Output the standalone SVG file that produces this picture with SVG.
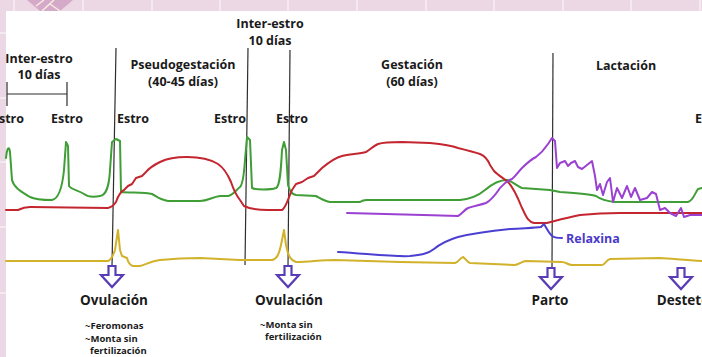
<svg xmlns="http://www.w3.org/2000/svg" width="702" height="357" viewBox="0 0 702 357">
<style>
.t{font-family:"Open Sans","Noto Sans",sans-serif;font-weight:700;fill:#1a1a1a;text-anchor:middle}
.h{font-size:12.5px}
.e{font-size:12.5px}
.o{font-size:13.5px}
.s{font-size:9.5px;text-anchor:start}
.c{fill:none;stroke-width:2;stroke-linejoin:round;stroke-linecap:round}
.vl{stroke:#2e2e2e;stroke-width:1.2;fill:none}
.grid{stroke:#f5e9f0;stroke-width:2}
</style>
<defs>
<path id="arr" d="M-3.5,0 L-3.5,9 L-11,9 L0,21 L11,9 L3.5,9 L3.5,0 Z" fill="#fff" stroke="#5a3cb6" stroke-width="2.2" stroke-linejoin="miter"/>
</defs>
<g id="background">
<rect x="0" y="0" width="702" height="357" fill="#ecd7e4"/>
<g class="grid">
<line x1="14" y1="0" x2="14" y2="357"/><line x1="83" y1="0" x2="83" y2="11"/><line x1="152" y1="0" x2="152" y2="11"/><line x1="220" y1="0" x2="220" y2="11"/><line x1="288" y1="0" x2="288" y2="11"/><line x1="357" y1="0" x2="357" y2="11"/><line x1="426" y1="0" x2="426" y2="11"/><line x1="494" y1="0" x2="494" y2="11"/><line x1="563" y1="0" x2="563" y2="11"/><line x1="631" y1="0" x2="631" y2="11"/><line x1="700" y1="0" x2="700" y2="11"/>
<line x1="0" y1="33" x2="6" y2="33"/><line x1="0" y1="98" x2="6" y2="98"/><line x1="0" y1="162" x2="6" y2="162"/><line x1="0" y1="227" x2="6" y2="227"/><line x1="0" y1="293" x2="6" y2="293"/>
</g>
<path d="M27,0 L73,0 L60,11 L40,11 Z" fill="#d5a9c8"/>
<path d="M36,6 L44,0 M42,11 L54,0 M50,4 L60,11" stroke="#f8ece2" stroke-width="1.5" fill="none"/>
<rect x="6" y="11" width="696" height="346" fill="#ffffff"/>
</g>
<g id="labels-top">
<text class="t h" x="39" y="63">Inter-estro</text>
<text class="t h" x="39" y="79">10 días</text>
<text class="t h" x="183" y="69">Pseudogestación</text>
<text class="t h" x="183" y="86">(40-45 días)</text>
<text class="t h" x="270" y="28">Inter-estro</text>
<text class="t h" x="270" y="45">10 días</text>
<text class="t h" x="412" y="69">Gestación</text>
<text class="t h" x="412" y="86">(60 días)</text>
<text class="t h" x="626" y="70">Lactación</text>
</g>
<g id="bracket" class="vl">
<line x1="7" y1="94" x2="67" y2="94"/><line x1="7" y1="82" x2="7" y2="106"/><line x1="67" y1="82" x2="67" y2="106"/>
</g>
<g id="estro-labels">
<text class="t e" x="8" y="123">Estro</text>
<text class="t e" x="67" y="123">Estro</text>
<text class="t e" x="133" y="123">Estro</text>
<text class="t e" x="230" y="123">Estro</text>
<text class="t e" x="292" y="123">Estro</text>
<text class="t e" x="711" y="123">Estro</text>
</g>
<g id="connectors">
<line class="vl" x1="116" y1="48" x2="112" y2="267"/>
<line class="vl" x1="248" y1="48" x2="245" y2="265"/>
<line class="vl" x1="290" y1="50" x2="288" y2="267"/>
<line class="vl" x1="553" y1="53" x2="552" y2="268"/>
</g>
<g id="curves">
<path class="c" stroke="#d1b22a" d="M6,261 L108,261 C111,260 113,256 115,250 L118,230 L120,250 L122,256 L127,258 C128,262 129,265 133,266 L140,266 C146,265 150,261 160,260 C170,259 180,258 200,258 L240,260 L272,260 C277,259 279,254 281,245 L284,230 L286,245 C288,255 290,260 296,262 C310,262 320,260 335,260 L400,262 L455,263 C459,262 461,257 463,257 C465,258 467,262 470,263 L515,265 C520,264 522,261 526,261 L562,262 C566,262 568,265 572,265 L602,265 C605,265 606,260 610,259 L660,258 C675,259 685,260 702,261"/>
<path class="c" stroke="#3f9e35" d="M6,158 C7,148 9,145 10,152 L12,180 C14,188 22,192 30,197 C36,200 45,200 52,200 C58,199 62,190 64,170 L66,142 L68,146 L69,186 C72,190 78,190 84,194 C88,197 95,197 100,196 C106,195 109,188 110,170 L112,142 L116,139 L120,141 L121,192 C130,193 145,192 152,194 C156,196 160,200 168,201 L200,201 C208,201 212,197 220,196 L228,196 C233,195 236,190 240,187 C242,185 244,175 245,160 L247,137 L250,140 L252,188 C256,190 270,190 276,188 C280,186 281,170 282,150 L284,142 L286,150 L288,185 C290,192 292,194 296,195 L316,196 C320,198 324,201 330,202 L360,202 C364,199 366,200 370,200 L460,200 C470,199 478,196 485,190 C492,184 500,180 507,180 C512,181 517,186 522,188 L550,190 L560,192 C575,193 590,194 596,196 C600,199 605,201 615,202 L688,202 C693,201 695,193 698,189 L702,188"/>
<path class="c" stroke="#c4262f" d="M6,210 L18,210 C22,208 24,207 30,207 L108,208 C112,207 114,205 116,202 C118,196 120,192 124,190 L128,186 L132,184 L136,178 L142,176 L146,172 C150,167 154,165 160,162 C168,158 175,157 187,157 C200,157 210,159 218,164 C224,168 228,175 231,182 C233,188 236,195 240,200 L244,206 C250,209 258,210 268,210 L282,210 C286,208 289,196 292,190 L296,184 L302,182 L308,178 L314,176 L318,172 L322,168 C328,163 334,158 342,156 C350,154 360,154 366,152 C370,150 373,146 378,144 C384,142 392,142 402,142 L430,143 C440,144 450,145 458,148 C466,150 474,152 480,154 C485,156 488,160 490,165 L494,171 C498,175 503,178 508,182 C514,188 518,198 522,208 C526,216 528,222 534,223 L547,223 C555,221 565,218 580,215 C590,214 600,213 620,213 L702,213"/>
<path class="c" stroke="#9b41d2" d="M347,213 C380,214 420,215 458,216 C462,214 464,210 468,208 C474,206 480,205 486,203 C492,200 496,194 500,188 C504,183 507,181 512,179 C516,176 518,172 522,168 C526,164 530,160 536,157 C540,154 544,150 548,144 L552,138 L555,141 L557,168 L560,163 L565,161 L568,166 L571,163 L575,161 L578,167 L582,169 L587,165 L592,161 L595,176 L597,190 L600,184 L603,195 L607,182 L610,178 L613,202 L617,188 L622,198 L627,186 L631,197 L635,188 L640,200 L647,198 L652,192 L656,194 L660,210 L665,208 L670,213 L676,216 L681,208 L684,217 L690,215 L702,215"/>
<path class="c" stroke="#4b3fd2" d="M338,252 C370,254 395,257 410,256 C420,255 428,254 434,249 C440,244 448,240 458,237 C470,234 490,231 510,229 C525,228 535,228 541,227 L544,224 C546,227 548,232 552,236 C555,238 558,238 562,238"/>
<text class="t" x="566" y="243" style="font-size:12.5px;text-anchor:start;fill:#4a3bc8">Relaxina</text>
</g>
<g id="ovulacion-1">
<use href="#arr" x="112" y="266"/>
<text class="t o" x="114" y="305">Ovulación</text>
<text class="t s" x="85" y="329">~Feromonas</text>
<text class="t s" x="85" y="342">~Monta sin</text>
<text class="t s" x="90" y="354">fertilización</text>
</g>
<g id="ovulacion-2">
<use href="#arr" x="288" y="266"/>
<text class="t o" x="289" y="305">Ovulación</text>
<text class="t s" x="260" y="328">~Monta sin</text>
<text class="t s" x="265" y="340">fertilización</text>
</g>
<g id="parto">
<use href="#arr" x="551" y="268"/>
<text class="t o" x="550" y="305">Parto</text>
</g>
<g id="destete">
<use href="#arr" x="681" y="268"/>
<text class="t o" x="683" y="305">Destete</text>
</g>
</svg>
